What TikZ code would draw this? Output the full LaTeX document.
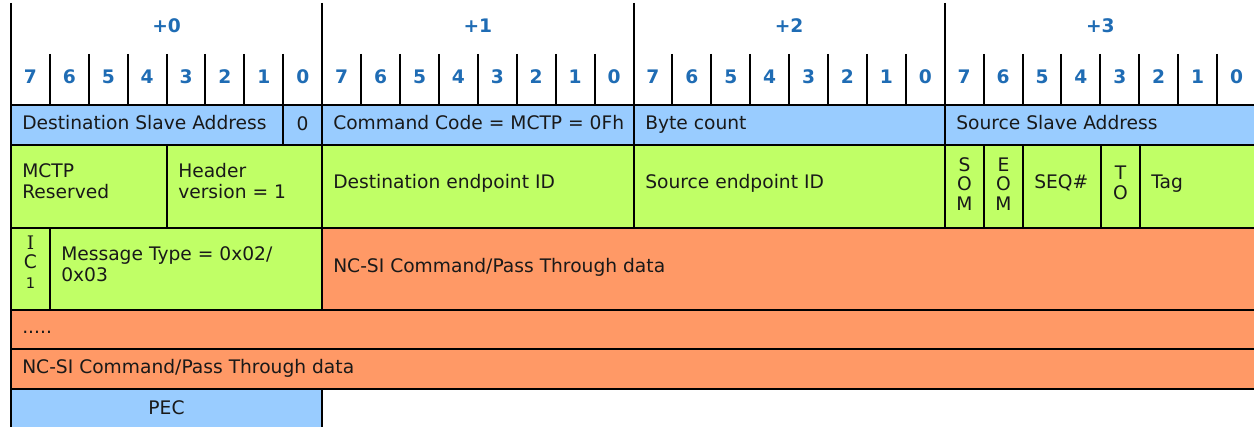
\documentclass[tikz,border=0pt]{standalone}
\usepackage{fontspec}
\setmainfont{DejaVu Sans}
\newfontfamily\serifface{DejaVu Serif}
\usepackage{xcolor}
\usepackage{tikz}
\usetikzlibrary{positioning}
\definecolor{hdrblue}{HTML}{1F6CB4}
\definecolor{pktblue}{HTML}{99CCFF}
\definecolor{pktgreen}{HTML}{C0FF66}
\definecolor{pktorange}{HTML}{FF9966}

\begin{document}
\begin{tikzpicture}[
    x=0.75pt, y=-0.75pt,
    rule/.style={line width=1.5pt, black},
    hdr/.style={inner sep=0pt, text=hdrblue, font=\fontsize{14}{16}\selectfont\bfseries},
    bluecell/.style={fill=pktblue, draw=black, line width=1.5pt},
    greencell/.style={fill=pktgreen, draw=black, line width=1.5pt},
    orangecell/.style={fill=pktorange, draw=black, line width=1.5pt},
    txt/.style={inner sep=0pt, text=black!90, font=\fontsize{14}{16}\selectfont},
    fld/.style={txt, anchor=west, align=left, execute at begin node=\strut, execute at end node=\strut},
    stack/.style={txt, align=center, font=\fontsize{14}{14.6}\selectfont}
]
    \useasboundingbox (0,0) rectangle (1254,427);

    \foreach \b in {0,...,3} {
        \node[hdr] (byte\b) at ({11+311.25*\b+155.6},26) {+\b};
        \foreach \i [evaluate=\i as \n using int(7-\i)] in {0,...,7}
            \node[hdr] (bit\b\n) at ({11+311.25*\b+38.9*\i+19.45},77) {\n};
    }
    \foreach \b in {0,...,4}
        \draw[rule] ({round(11+311.25*\b)},3) -- ({round(11+311.25*\b)},105);
    \foreach \b in {0,...,3}
        \foreach \i in {1,...,7}
            \draw[rule] ({round(11+311.25*\b+38.9*\i)},54) -- ++(0,51);

    \filldraw[bluecell] (11,105) rectangle (283,145);
    \filldraw[bluecell] (283,105) rectangle (322,145);
    \filldraw[bluecell] (322,105) rectangle (634,145);
    \filldraw[bluecell] (634,105) rectangle (945,145);
    \filldraw[bluecell] (945,105) rectangle (1256,145);

    \filldraw[greencell] (11,145) rectangle (167,228);
    \filldraw[greencell] (167,145) rectangle (322,228);
    \filldraw[greencell] (322,145) rectangle (634,228);
    \filldraw[greencell] (634,145) rectangle (945,228);
    \filldraw[greencell] (945,145) rectangle (984,228);
    \filldraw[greencell] (984,145) rectangle (1023,228);
    \filldraw[greencell] (1023,145) rectangle (1101,228);
    \filldraw[greencell] (1101,145) rectangle (1140,228);
    \filldraw[greencell] (1140,145) rectangle (1256,228);

    \filldraw[greencell] (11,228) rectangle (50,310);
    \filldraw[greencell] (50,228) rectangle (322,310);
    \filldraw[orangecell] (322,228) rectangle (1256,310);
    \filldraw[orangecell] (11,310) rectangle (1256,349);
    \filldraw[orangecell] (11,349) rectangle (1256,389);
    \filldraw[bluecell] (11,389) rectangle (322,432);

    \node[fld] (dstaddr) at (22,125) {Destination Slave Address};
    \node[txt] (rwbit) at (302.5,124) {0};
    \node[fld] (cmdcode) at (333,125) {Command Code = MCTP = 0Fh};
    \node[fld] (bytecnt) at (645,125) {Byte count};
    \node[fld] (srcaddr) at (956,125) {Source Slave Address};

    \node[fld] (rsvd) at (22,184) {MCTP\\Reserved};
    \node[fld] (hdrver) at (178,184) {Header\\version = 1};
    \node[fld] (dsteid) at (333,184) {Destination endpoint ID};
    \node[fld] (srceid) at (645,184) {Source endpoint ID};
    \node[stack] (som) at (964.5,184) {S\\O\\M};
    \node[stack] (eom) at (1003.5,184) {E\\O\\M};
    \node[fld] (seq) at (1034,184) {SEQ\#};
    \node[stack] (tagown) at (1120.5,183) {T\\O};
    \node[fld] (tag) at (1151,184) {Tag};

    \node[stack] (ic) at (30.5,262) {{\serifface I}\\C\\{\fontsize{11}{11}\selectfont 1}};
    \node[fld] (msgtype) at (61,267) {Message Type = 0x02/\\0x03};
    \node[fld] (data1) at (333,268) {NC-SI Command/Pass Through data};
    \node[fld] (dots) at (22,329) {.....};
    \node[fld] (data2) at (22,369) {NC-SI Command/Pass Through data};
    \node[txt] (pec) at (166.5,408) {PEC};
\end{tikzpicture}
\end{document}
